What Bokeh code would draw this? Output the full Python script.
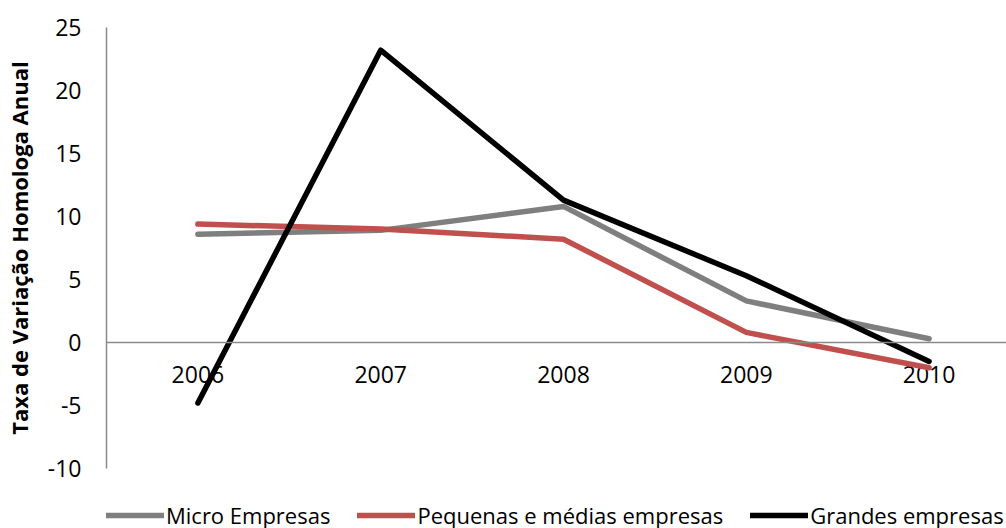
from bokeh.plotting import figure
from bokeh.layouts import column
from bokeh.models import Range1d, FixedTicker, Span, Legend, LegendItem
from bokeh.core.properties import value
from bokeh.embed import file_html
from bokeh.resources import INLINE

# Annual year-on-year change by company size
years = [2006, 2007, 2008, 2009, 2010]
year_labels = ["2006", "2007", "2008", "2009", "2010"]
micro = [8.6, 8.9, 10.8, 3.3, 0.3]
pme = [9.4, 9.0, 8.2, 0.8, -2.0]
grandes = [-4.8, 23.2, 11.3, 5.3, -1.5]
series_names = ["Micro Empresas", "Pequenas e médias empresas", "Grandes empresas"]
series_colors = ["#7f7f7f", "#c0504d", "#000000"]
y_ticks = [-10, -5, 0, 5, 10, 15, 20, 25]

FONT = "Open Sans"
AXIS_GREY = "#8a8a8a"
series = [micro, pme, grandes]
line_kw = dict(line_width=5.5, line_cap="round", line_join="round")

p = figure(
    width=1006, height=485,
    output_backend="svg", toolbar_location=None,
    x_range=Range1d(2005.5, 2005.5 + 901 / 183),
    y_range=Range1d(-10, 25),
    x_axis_location=None,
    min_border_left=105, min_border_right=0,
    min_border_top=27, min_border_bottom=17,
)
p.outline_line_color = None
p.xgrid.visible = False
p.ygrid.visible = False

# vertical axis
ax = p.yaxis[0]
ax.ticker = FixedTicker(ticks=y_ticks)
ax.major_label_overrides = {t: str(t) for t in y_ticks}
ax.axis_line_color = AXIS_GREY
ax.axis_line_width = 1.5
ax.major_tick_line_color = None
ax.minor_tick_line_color = None
ax.major_tick_out = 0
ax.major_tick_in = 0
ax.major_label_standoff = 25
ax.major_label_text_font = FONT
ax.major_label_text_font_size = "23px"
ax.major_label_text_color = "black"
ax.axis_label = "Taxa de Variação Homologa Anual"
ax.axis_label_text_font = FONT
ax.axis_label_text_font_style = "bold"
ax.axis_label_text_font_size = "22px"
ax.axis_label_text_color = "black"
ax.axis_label_standoff = 11

# horizontal axis line through zero
p.add_layout(Span(location=0, dimension="width", line_color=AXIS_GREY, line_width=1.5))

# year labels hanging below the zero line
baseline = [0] * len(years)
p.text(x=years, y=baseline, text=year_labels,
       text_font=value(FONT), text_font_size="23px", text_color="black",
       text_align="center", text_baseline="middle", y_offset=32)

for vals, color in zip(series, series_colors):
    p.line(years, vals, line_color=color, **line_kw)

# legend strip underneath the chart (its frame lines up with the chart's)
leg_fig = figure(
    width=1006, height=43,
    output_backend="svg", toolbar_location=None,
    x_range=Range1d(0, 1), y_range=Range1d(0, 1),
    x_axis_location=None, y_axis_location=None,
    min_border_left=0, min_border_right=0,
    min_border_top=0, min_border_bottom=0,
)
leg_fig.outline_line_color = None
leg_fig.xgrid.visible = False
leg_fig.ygrid.visible = False

items = []
for name, vals, color in zip(series_names, series, series_colors):
    r = leg_fig.line(years, vals, line_color=color, **line_kw)
    items.append(LegendItem(label=name, renderers=[r]))

legend = Legend(
    items=items,
    orientation="horizontal",
    location=(0, -2),
    glyph_width=58, glyph_height=24,
    label_standoff=2, spacing=27,
    padding=0, margin=0,
    border_line_color=None, background_fill_alpha=0,
    label_text_font=FONT, label_text_font_size="22px",
    label_text_color="black", label_text_baseline="middle",
)
leg_fig.add_layout(legend, "center")

layout = column(p, leg_fig, spacing=0)
open("out.html", "w").write(file_html(layout, INLINE))
